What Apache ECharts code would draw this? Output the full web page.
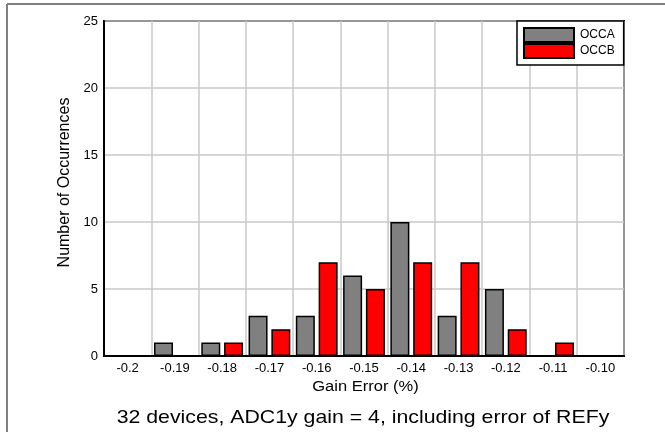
<!DOCTYPE html>
<html>
<head>
<meta charset="utf-8">
<script src="https://cdn.jsdelivr.net/npm/echarts@6/dist/echarts.min.js"></script>
<style>
html,body{margin:0;padding:0;background:#fff;}
#chart{width:665px;height:432px;}
</style>
</head>
<body>
<div id="chart"></div>
<script>
const categories = ['-0.2','-0.19','-0.18','-0.17','-0.16','-0.15','-0.14','-0.13','-0.12','-0.11','-0.10'];
const occaValues = [0, 1, 1, 3, 3, 6, 10, 3, 5, 0, 0];
const occbValues = [0, 0, 1, 2, 7, 5, 7, 7, 2, 1, 0];
const seriesNames = ['OCCA', 'OCCB'];
const xAxisTitle = 'Gain Error (%)';
const yAxisTitle = 'Number of Occurrences';
const caption = '32 devices, ADC1y gain = 4, including error of REFy';

const FONT = 'Liberation Sans, Arial, sans-serif';
const chart = echarts.init(document.getElementById('chart'), null, {renderer: 'canvas'});
chart.setOption({
  animation: false,
  backgroundColor: '#fff',
  grid: {left: 104, right: 41, top: 21, bottom: 76, show: true, borderColor: '#000', borderWidth: 2, backgroundColor: 'transparent'},
  legend: {
    data: seriesNames,
    orient: 'vertical',
    left: 517, top: 21,
    itemWidth: 50, itemHeight: 14, itemGap: 0,
    icon: 'rect',
    padding: [6, 9, 6, 6],
    backgroundColor: '#fff',
    borderColor: '#000', borderWidth: 1.5, borderRadius: 0,
    textStyle: {fontFamily: FONT, fontSize: 12, color: '#000', padding: [0,0,0,1]},
    z: 10
  },
  xAxis: {
    type: 'category',
    data: categories,
    boundaryGap: true,
    axisLine: {show: true, lineStyle: {color: '#000', width: 2}},
    axisTick: {show: false},
    axisLabel: {fontFamily: FONT, fontSize: 13, color: '#000', margin: 6, interval: 0},
    splitLine: {show: true, interval: 0, lineStyle: {color: '#c8c8c8', width: 1.5}}
  },
  yAxis: {
    type: 'value',
    min: 0, max: 25, interval: 5,
    axisLine: {show: true, lineStyle: {color: '#000', width: 2}},
    axisTick: {show: false},
    axisLabel: {fontFamily: FONT, fontSize: 13, color: '#000', margin: 6},
    splitLine: {show: true, lineStyle: {color: '#c8c8c8', width: 1.5}}
  },
  series: [
    {name: seriesNames[0], type: 'bar', data: occaValues, barWidth: 19, barGap: '20%',
     itemStyle: {color: '#808080', borderColor: '#000', borderWidth: 1.5}},
    {name: seriesNames[1], type: 'bar', data: occbValues, barWidth: 19,
     itemStyle: {color: '#ff0000', borderColor: '#000', borderWidth: 1.5}}
  ],
  graphic: [
    {type: 'line', shape: {x1: 7, y1: 4, x2: 665, y2: 4}, style: {stroke: '#808080', lineWidth: 2}, silent: true},
    {type: 'line', shape: {x1: 7, y1: 4, x2: 7, y2: 432}, style: {stroke: '#808080', lineWidth: 2}, silent: true},
    {type: 'text', x: 363, y: 418, scaleX: 1.12,
     style: {text: caption, fontFamily: FONT, fontSize: 19, fill: '#000', align: 'center', verticalAlign: 'middle'}, silent: true},
    {type: 'text', x: 365.5, y: 387, scaleX: 1.18,
     style: {text: xAxisTitle, fontFamily: FONT, fontSize: 14, fill: '#000', align: 'center', verticalAlign: 'middle'}, silent: true},
    {type: 'text', x: 65, y: 182.5, rotation: Math.PI / 2,
     style: {text: yAxisTitle, fontFamily: FONT, fontSize: 16, fill: '#000', align: 'center', verticalAlign: 'middle'}, silent: true}
  ]
});
</script>
</body>
</html>
